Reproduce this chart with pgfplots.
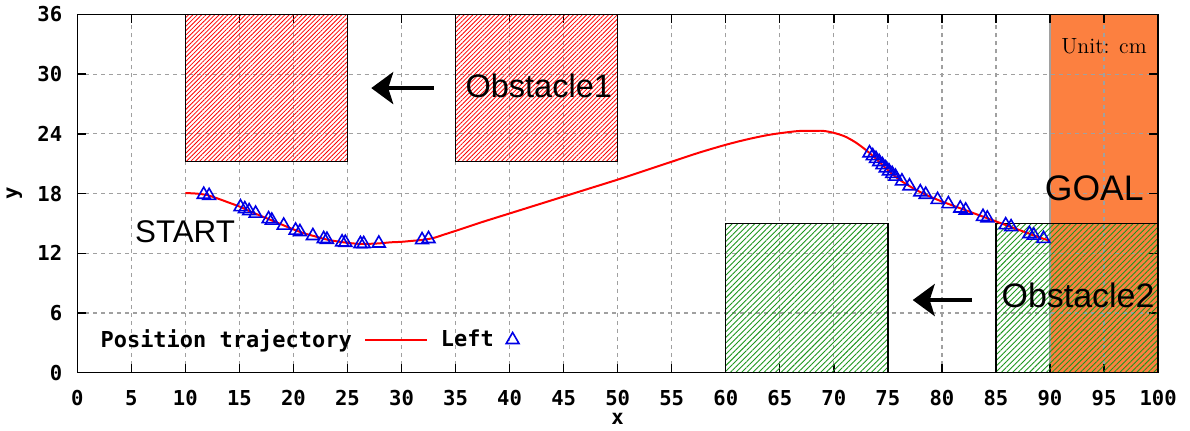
\documentclass[border=0pt]{standalone}
\usepackage{fontspec}
\setmonofont{DejaVu Sans Mono}
\newfontfamily\arialf{Liberation Sans}
\usepackage{pgfplots}
\pgfplotsset{compat=1.18}
\usetikzlibrary{patterns.meta,arrows.meta}
\definecolor{goalorange}{RGB}{252,128,64}
\definecolor{hatchgreen}{RGB}{30,150,30}
\definecolor{gridgray}{RGB}{160,160,160}
\definecolor{trajred}{RGB}{255,0,0}
\definecolor{markblue}{RGB}{0,0,230}
\begin{document}
\begin{tikzpicture}
\begin{axis}[
  set layers,
  scale only axis, width=541.5pt, height=179.5pt,
  xmin=0, xmax=100, ymin=0, ymax=36,
  xtick={0,5,...,100}, ytick={0,6,...,36},
  grid=major,
  major grid style={gridgray, dash pattern=on 2pt off 2pt, line width=0.6pt},
  tick align=inside, major tick length=4.5pt,
  tick style={black, line width=0.7pt},
  axis line style={line width=0.7pt},
  /pgf/number format/assume math mode=true,
  tick label style={font=\fontsize{10.3}{12}\selectfont\ttfamily\bfseries},
  xticklabel style={yshift=-5.5pt},
  yticklabel style={xshift=-4pt},
  xlabel={x}, ylabel={y},
  label style={font=\fontsize{10.3}{12}\selectfont\ttfamily\bfseries},
  xlabel style={at={(axis description cs:0.5,0)}, anchor=center, yshift=-23pt},
  ylabel style={at={(axis description cs:0,0.5)}, anchor=center, yshift=31.5pt},
  legend plot pos=right,
  legend columns=-1,
  legend style={at={(axis cs:1.2,3.3)}, anchor=west, draw=none, fill=none,
    font=\fontsize{11}{13}\selectfont\ttfamily\bfseries,
    /tikz/every even column/.append style={column sep=4.5pt},
    /tikz/every odd column/.append style={column sep=4.2pt}},
]
% goal region
\addplot[fill=goalorange, draw=gridgray, line width=0.7pt, on layer=axis background, forget plot]
  coordinates {(90,0) (100,0) (100,36) (90,36)} -- cycle;
% obstacle 1
\addplot[pattern={Lines[angle=45,distance=1.55pt,line width=0.42pt]}, pattern color=red, draw=black, line width=0.7pt, forget plot]
  coordinates {(10,21.2) (25,21.2) (25,36) (10,36)} -- cycle;
\addplot[pattern={Lines[angle=45,distance=1.55pt,line width=0.42pt]}, pattern color=red, draw=black, line width=0.7pt, forget plot]
  coordinates {(35,21.2) (50,21.2) (50,36) (35,36)} -- cycle;
% obstacle 2
\addplot[pattern={Lines[angle=45,distance=2.0pt,line width=0.45pt]}, pattern color=hatchgreen, draw=black, line width=0.7pt, forget plot]
  coordinates {(60,0) (75,0) (75,15) (60,15)} -- cycle;
\addplot[pattern={Lines[angle=45,distance=2.0pt,line width=0.45pt]}, pattern color=hatchgreen, draw=black, line width=0.7pt, forget plot]
  coordinates {(85,0) (100,0) (100,15) (85,15)} -- cycle;
% trajectory
\addplot[trajred, line width=1pt, smooth,
  legend image code/.code={\draw[trajred, line width=1pt] (0pt,0pt) -- (31pt,0pt);}]
  coordinates {
  (10,18.05) (11,18.0) (12,17.85) (13,17.5) (14,17.1) (15,16.7) (16,16.2) (17,15.75)
  (18,15.3) (19,14.85) (20,14.4) (21,14.0) (22,13.7) (23,13.4) (24,13.2) (25,13.05)
  (26,12.95) (27,12.95) (28,13.0) (29,13.1) (30,13.15) (31,13.25) (32,13.35) (33,13.55)
  (34,13.9) (35,14.25) (37.5,15.15) (40,16.0) (42.5,16.85) (45,17.7) (47.5,18.55)
  (50,19.4) (52.5,20.3) (55,21.2) (57.5,22.1) (60,22.9) (62,23.45) (64,23.9) (66,24.2)
  (67,24.3) (68,24.3) (69,24.3) (70,24.1) (71,23.75) (72,23.15) (73,22.35) (74,21.4)
  (75,20.35) (76,19.45) (77,18.75) (78,18.15) (79,17.65) (80,17.2) (81,16.8) (82,16.4)
  (83,16.0) (84,15.6) (85,15.2) (86,14.8) (87,14.4) (88,14.0) (89,13.6) (90,13.25)
  };
\addlegendentry{Position trajectory}
% left markers
\addplot[only marks, mark=triangle, mark size=3.7pt, color=markblue, mark options={line width=0.8pt},
  legend image code/.code={\draw[markblue, line width=0.8pt] plot[mark=triangle, mark size=3.7pt] coordinates {(0pt,0pt)};}]
  coordinates {
  (11.7,17.9) (12.2,17.78) (15.1,16.65) (15.5,16.45) (15.9,16.25) (16.5,16.0)
  (17.7,15.45) (18.0,15.3) (19.1,14.8) (20.2,14.3) (20.6,14.15) (21.8,13.75)
  (22.8,13.45) (23.1,13.38) (24.5,13.12) (24.8,13.08) (26.2,12.95) (26.5,12.95)
  (27.9,13.0) (31.9,13.34) (32.5,13.45)
  (73.3,22.07) (73.6,21.78) (73.9,21.5) (74.2,21.19) (74.5,20.88) (74.8,20.56)
  (75.1,20.26) (75.4,19.99) (75.7,19.72) (76.3,19.24) (77.0,18.75) (78.0,18.15)
  (78.5,17.9) (79.6,17.38) (80.6,16.96) (81.7,16.52) (82.2,16.32) (83.8,15.68)
  (84.2,15.52) (85.9,14.84) (86.4,14.64) (88.1,13.96) (88.5,13.8) (89.4,13.46)
  };
\addlegendentry{Left}
% annotations
\node[font=\arialf\fontsize{15.7}{18}\selectfont, anchor=base] at (axis cs:9.97,13.04) {START};
\node[font=\arialf\fontsize{16.3}{18}\selectfont, anchor=base] at (axis cs:42.7,27.7) {Obstacle1};
\node[font=\arialf\fontsize{17}{18}\selectfont, anchor=base] at (axis cs:92.6,6.52) {Obstacle2};
\node[font=\arialf\fontsize{17.8}{18}\selectfont, anchor=base] at (axis cs:94.1,17.35) {GOAL};
\node[font=\fontsize{11}{13}\selectfont, anchor=base] at (axis cs:95.0,32.1) {Unit: cm};
\draw[line width=2pt, -{Stealth[length=11pt,width=16pt,inset=2.5pt]}] (axis cs:33,28.6) -- (axis cs:27.2,28.6);
\draw[line width=2pt, -{Stealth[length=11pt,width=16pt,inset=2.5pt]}] (axis cs:82.8,7.3) -- (axis cs:77.3,7.3);
\end{axis}
\path (-37.5pt,-26pt) rectangle (557.5pt,186.5pt);
\end{tikzpicture}
\end{document}
